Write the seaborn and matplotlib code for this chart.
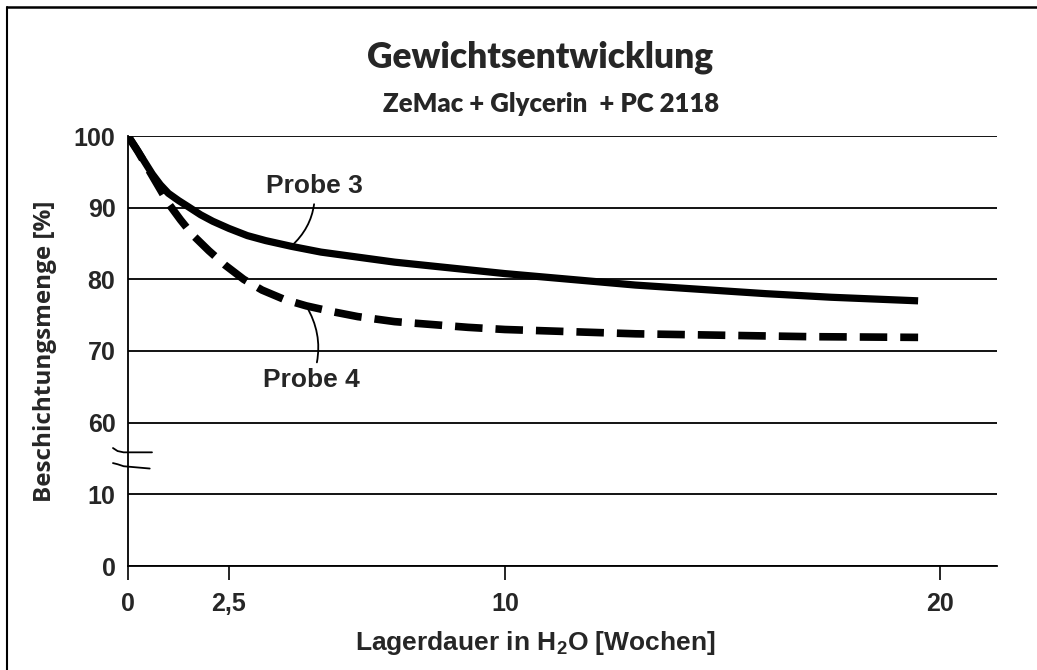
import numpy as np
import pandas as pd
import seaborn as sns
import matplotlib as mpl
mpl.use('Agg')
import matplotlib.pyplot as plt
from matplotlib.lines import Line2D
import matplotlib.transforms as mtransforms

wochen_p3 = [0, 0.2, 0.4, 0.6, 0.8, 1.0, 1.25, 1.5, 1.8, 2.1, 2.5, 3.0, 3.5, 4.2, 5.0, 6.0,
             7.0, 8.5, 10, 11.5, 13, 14.5, 16, 17.5, 19.5]
menge_p3 = [100, 98.3, 96.5, 94.7, 93.2, 92.0, 91.0, 90.1, 89.0, 88.1, 87.1, 86.1, 85.4,
            84.6, 83.8, 83.1, 82.4, 81.6, 80.8, 80.0, 79.2, 78.6, 78.0, 77.5, 77.0]

wochen_p4 = [0, 0.25, 0.5, 0.75, 1.0, 1.3, 1.6, 2.0, 2.4, 2.9, 3.4, 4.0, 4.6, 5.3, 6.0,
             7.0, 8.0, 9.0, 10, 11.5, 13, 15, 17, 19.5]
menge_p4 = [100, 97.8, 95.4, 93.0, 90.6, 88.3, 86.2, 84.0, 82.0, 80.0, 78.5, 77.2, 76.3,
            75.5, 74.8, 74.1, 73.7, 73.3, 73.0, 72.7, 72.4, 72.2, 72.0, 71.9]

y_ticks = [0, 10, 60, 70, 80, 90, 100]
x_ticks = [0, 2.5, 10, 20]
x_ticklabels = ['0', '2,5', '10', '20']

# Achsen wie in der Vorlage (gebrochene y-Achse, gezeichnete x-Achse)
y_pos = np.arange(len(y_ticks))
x_knots = [0, 2.5, 10, 20, 30]
x_pos = [0, 101, 377, 812, 1245]


def y_fwd(v):
    return np.interp(v, y_ticks, y_pos)


def y_inv(p):
    return np.interp(p, y_pos, y_ticks)


def x_fwd(v):
    return np.interp(v, x_knots, x_pos)


def x_inv(p):
    return np.interp(p, x_pos, x_knots)


sns.set_style('white')
plt.rcParams['font.family'] = ['Liberation Sans', 'DejaVu Sans']
plt.rcParams['font.weight'] = 'bold'
plt.rcParams['mathtext.default'] = 'regular'

fig = plt.figure(figsize=(10.37, 6.70), dpi=100)
ax = fig.add_axes([128 / 1037, 1 - 566 / 670, (997 - 128) / 1037, (566 - 136) / 670])

ax.set_xscale('function', functions=(x_fwd, x_inv))
ax.set_yscale('function', functions=(y_fwd, y_inv))

df3 = pd.DataFrame({'wochen': wochen_p3, 'menge': menge_p3})
df4 = pd.DataFrame({'wochen': wochen_p4, 'menge': menge_p4})
sns.lineplot(data=df3, x='wochen', y='menge', ax=ax, color='black', lw=5.2,
             solid_capstyle='butt', solid_joinstyle='round')
sns.lineplot(data=df4, x='wochen', y='menge', ax=ax, color='black', lw=5.5,
             linestyle=(0, (3.6, 1.7)), dash_capstyle='butt')

ax.set_xlim(0, 21.32)
ax.set_ylim(0, 100)
ax.set_yticks(y_ticks)
ax.set_yticklabels([str(v) for v in y_ticks])
ax.set_xticks(x_ticks)
ax.set_xticklabels(x_ticklabels)
ax.yaxis.grid(True, color='black', lw=1.3)
ax.xaxis.grid(False)
for s in ['top', 'right']:
    ax.spines[s].set_visible(False)
ax.spines['left'].set_color('black')
ax.spines['left'].set_linewidth(1.3)
ax.spines['bottom'].set_color('black')
ax.spines['bottom'].set_linewidth(1.3)
ax.tick_params(axis='x', direction='out', length=10, width=1.2, color='black',
               labelsize=18, pad=9, bottom=True)
ax.tick_params(axis='y', length=0, labelsize=18, pad=9)

ax.set_xlabel('Lagerdauer in H$_2$O [Wochen]', fontsize=19, fontweight='bold', labelpad=9)
ax.xaxis.label.set_x((535 - 128) / 869)
ax.set_ylabel('Beschichtungsmenge [%]', fontsize=17.5, fontweight='bold',
              family=['Open Sans', 'DejaVu Sans'], labelpad=12)

# Beschriftung der Kurven
ax.annotate('Probe 3', xy=(4.19, 84.6), xytext=(4.82, 93.0), ha='center', va='center',
            fontsize=19, fontweight='bold',
            arrowprops=dict(arrowstyle='-', lw=1.3, color='black',
                            connectionstyle='arc3,rad=-0.25', shrinkA=2, shrinkB=0))
ax.annotate('Probe 4', xy=(4.6, 76.3), xytext=(4.74, 65.9), ha='center', va='center',
            fontsize=19, fontweight='bold',
            arrowprops=dict(arrowstyle='-', lw=1.3, color='black',
                            connectionstyle='arc3,rad=0.25', shrinkA=2, shrinkB=0))

# Achsenbruch
trans = mtransforms.blended_transform_factory(ax.transAxes, ax.transData)
ax.plot([-0.0173, -0.012, -0.005, 0.0276], [42.3, 40.2, 39.3, 39.3], color='black',
        lw=1.3, transform=trans, clip_on=False)
ax.plot([-0.0173, -0.012, -0.005, 0.025], [31.8, 31.0, 29.6, 28.0], color='black',
        lw=1.3, transform=trans, clip_on=False)

fig.text(540 / 1037, 1 - 57 / 670, 'Gewichtsentwicklung', ha='center', va='center',
         fontsize=25.5, fontweight='heavy', family=['Lato', 'DejaVu Sans'])
fig.text(551 / 1037, 1 - 104 / 670, 'ZeMac + Glycerin  + PC 2118', ha='center', va='center',
         fontsize=18.5, fontweight='heavy', family=['Lato', 'DejaVu Sans'])

# Rahmen
fig.add_artist(Line2D([7 / 1037, 7 / 1037], [0, 1 - 7 / 670], color='black', lw=1.5))
fig.add_artist(Line2D([7 / 1037, 1], [1 - 7 / 670, 1 - 7 / 670], color='black', lw=1.8))

fig.savefig('out.png', dpi=100)
